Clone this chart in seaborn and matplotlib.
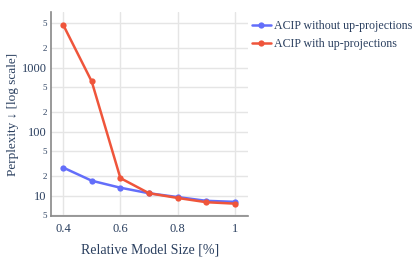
import matplotlib
matplotlib.use("Agg")
import matplotlib.pyplot as plt
import matplotlib.ticker as mticker
import seaborn as sns
import pandas as pd

# Data
sizes = [0.4, 0.5, 0.6, 0.7, 0.8, 0.9, 1.0]
ppl_without_up = [27.5, 17.1, 13.3, 10.9, 9.5, 8.3, 8.0]
ppl_with_up = [4700, 607, 18.8, 10.9, 9.2, 7.9, 7.5]
series_names = ["ACIP without up-projections", "ACIP with up-projections"]
series_colors = ["#636efa", "#EF553B"]

df = pd.concat([
    pd.DataFrame({"size": sizes, "ppl": ppl_without_up, "method": series_names[0]}),
    pd.DataFrame({"size": sizes, "ppl": ppl_with_up, "method": series_names[1]}),
])

sns.set_style("white")
plt.rcParams['font.family'] = ['Liberation Serif', 'DejaVu Serif']
text_col = "#2a3f5f"

fig = plt.figure(figsize=(4.15, 2.6), dpi=100)
ax = fig.add_axes([0.123, 0.169, 0.475, 0.785])

sns.lineplot(data=df, x="size", y="ppl", hue="method", palette=series_colors,
             marker="o", markersize=4.5, markeredgewidth=0, linewidth=1.8, ax=ax)

ax.set_yscale("log")
ax.set_ylim(4.8, 7400)
ax.set_xlim(0.358, 1.046)

ax.set_xticks([0.4, 0.6, 0.8, 1.0])
ax.set_xticklabels(["0.4", "0.6", "0.8", "1"])
ax.set_yticks([10, 100, 1000])
ax.set_yticklabels(["10", "100", "1000"])
minor = [5, 20, 50, 200, 500, 2000, 5000]
ax.yaxis.set_minor_locator(mticker.FixedLocator(minor))
ax.yaxis.set_minor_formatter(mticker.FixedFormatter(["2" if str(v)[0] == "2" else "5" for v in minor]))

ax.grid(True, which="both", color="#e5e5e5", linewidth=1)
ax.set_axisbelow(True)
ax.tick_params(axis="x", labelsize=9, colors="#888888", labelcolor=text_col, length=3, pad=2)
ax.tick_params(axis="y", which="major", labelsize=9, colors="#888888", labelcolor=text_col, length=0, pad=3)
ax.tick_params(axis="y", which="minor", labelsize=6.5, colors="#888888", labelcolor=text_col, length=0, pad=3)

for s in ["top", "right"]:
    ax.spines[s].set_visible(False)
for s in ["left", "bottom"]:
    ax.spines[s].set_color("#888888")
    ax.spines[s].set_linewidth(1.2)

ax.set_xlabel("Relative Model Size [%]", fontsize=10, color=text_col, labelpad=6)
ax.set_ylabel("Perplexity ↓ [log scale]", fontsize=9.5, color=text_col, labelpad=2)

ax.legend(loc="upper left", bbox_to_anchor=(0.975, 1.0), frameon=False, fontsize=8.6,
          handlelength=1.6, handletextpad=0.3, labelcolor=text_col, borderaxespad=0.3,
          labelspacing=0.45)

fig.savefig("out.png", dpi=100)
